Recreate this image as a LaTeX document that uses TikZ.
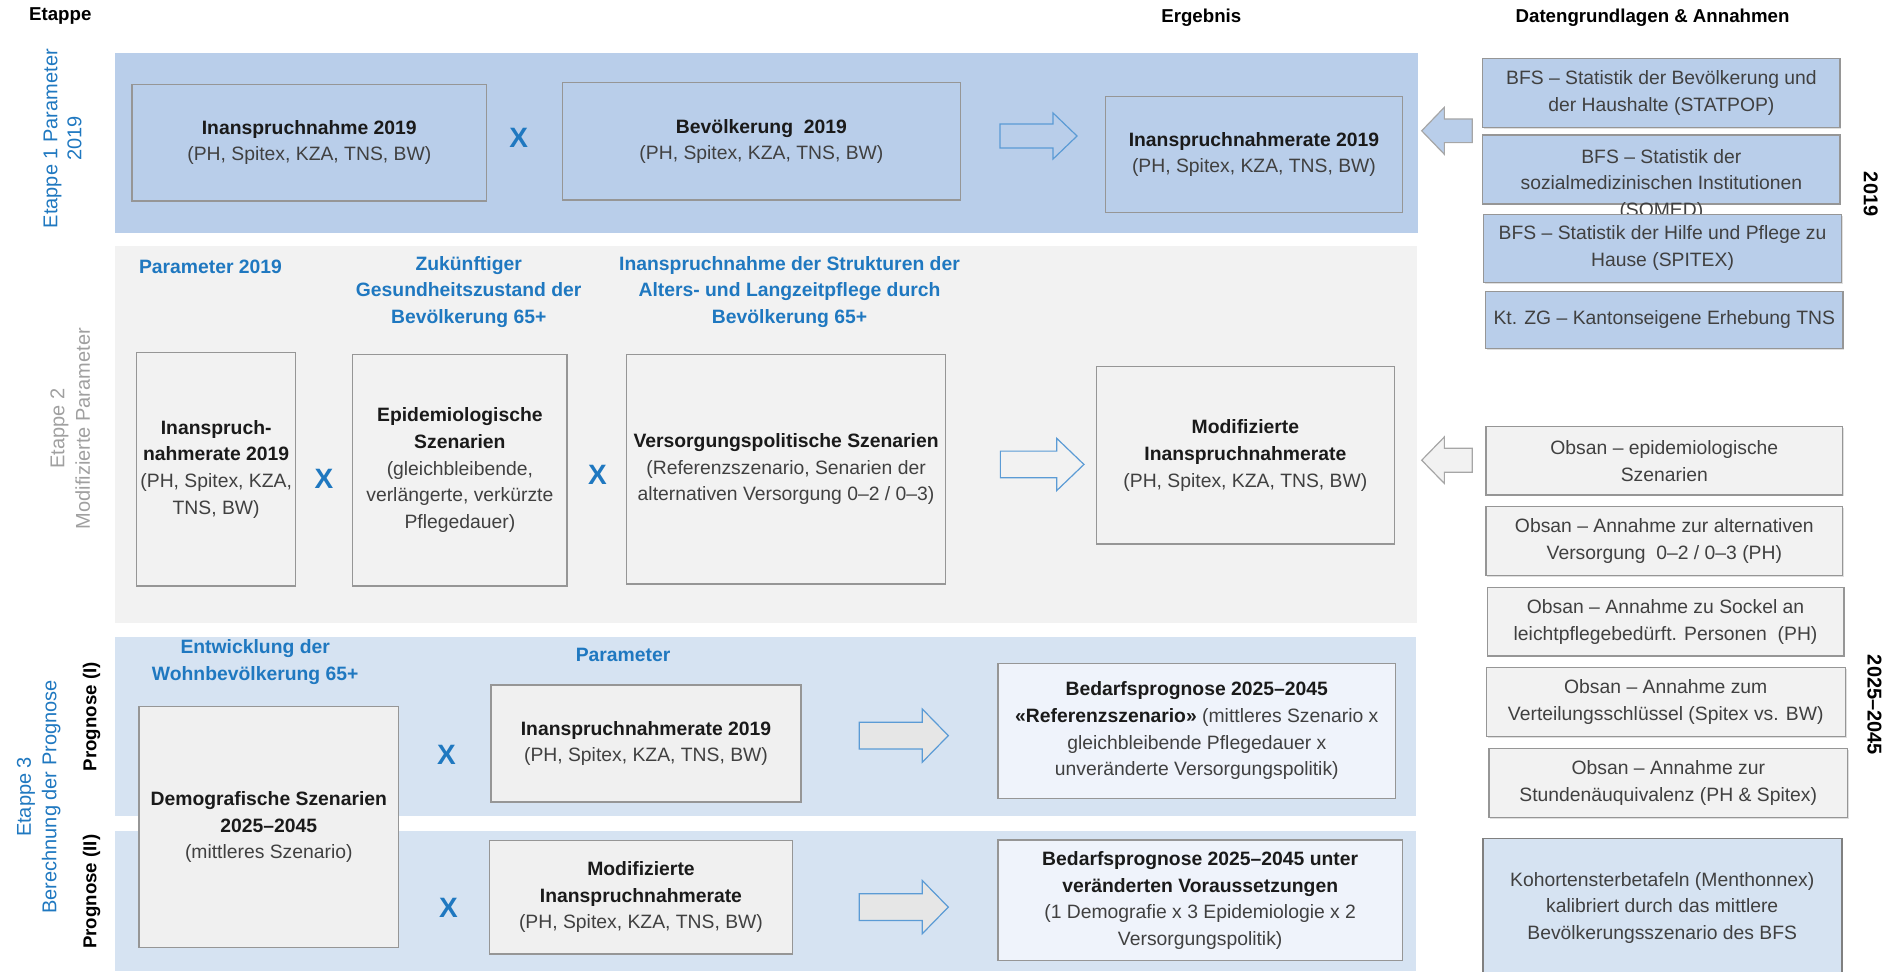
\documentclass[tikz,border=0pt]{standalone}
\usepackage{fontspec}
\setmainfont{Liberation Sans}
\usetikzlibrary{fit,shadows}
\definecolor{bandA}{RGB}{185,206,234}
\definecolor{bandB}{RGB}{242,242,242}
\definecolor{bandC}{RGB}{214,227,242}
\definecolor{boxK}{RGB}{239,243,251}
\definecolor{boxgrey}{RGB}{240,240,240}
\definecolor{bord}{RGB}{150,150,150}
\definecolor{kobord}{RGB}{128,128,128}
\definecolor{myblue}{RGB}{31,120,192}
\definecolor{arrblue}{RGB}{91,155,213}
\definecolor{arrgreyline}{RGB}{166,166,166}
\definecolor{txt}{RGB}{64,64,64}
\definecolor{dark}{RGB}{26,26,26}
\definecolor{lbl}{RGB}{160,160,160}
\definecolor{arrgrey}{RGB}{230,230,230}
\newcommand{\hd}[1]{{\color{dark}\bfseries #1}}
\newcommand{\myfs}{\fontsize{14.5}{20}\selectfont}
% box from corner (x1,y1) to (x2,y2), in picture units (0.9083pt)
\newcommand{\bx}[7][]{%
  \node[box, #1, minimum width={(#5-#3)*0.9083pt}, minimum height={(#6-#4)*0.9083pt}]
    (#2) at ({(#3+#5)/2},{(#4+#6)/2}) {#7};}
\newcommand{\blockarrow}[7]{%
  \draw[#1] ({#2},{#5-#6}) -- ({#3},{#5-#6}) -- ({#3},{#5-#7}) -- ({#4},{#5})
    -- ({#3},{#5+#7}) -- ({#3},{#5+#6}) -- ({#2},{#5+#6}) -- cycle;}
\tikzset{
  band/.style={draw=none, inner sep=0pt},
  box/.style={draw=bord, line width=0.9pt, inner sep=0pt, align=center, text=txt, font=\myfs},
  shad/.style={drop shadow={shadow xshift=1pt, shadow yshift=-1pt, opacity=0.25}},
  heading/.style={font=\fontsize{14.5}{20}\selectfont\bfseries, text=myblue, align=center},
  colhead/.style={font=\fontsize{14}{16}\selectfont\bfseries, text=black},
  times/.style={font=\fontsize{21}{21}\selectfont\bfseries, text=myblue},
  etlabel/.style={rotate=90, align=center, font=\fontsize{15}{19}\selectfont},
  proglabel/.style={rotate=90, font=\fontsize{14}{16}\selectfont\bfseries, text=black},
  yearlabel/.style={rotate=-90, font=\fontsize{15}{16}\selectfont\bfseries, text=black},
  bluearrow/.style={draw=arrblue, line width=0.9pt},
  greyarrow/.style={draw=arrgreyline, line width=0.9pt}
}
\begin{document}
\begin{tikzpicture}[x=0.9083pt, y=-0.9083pt]
\useasboundingbox (0,0) rectangle (1568,802);

% column headers
\node[colhead] (hEtappe) at (49.8,13.5) {Etappe};
\node[colhead] (hErgebnis) at (991.9,14.3) {Ergebnis};
\node[colhead] (hDaten) at (1364.5,14.3) {Datengrundlagen \& Annahmen};

% bands
\node[band, fill=bandA, fit={(95,44) (1170.6,192.7)}] (band1) {};
\node[band, fill=bandB, fit={(95,203.1) (1170,514.1)}] (band2) {};
\node[band, fill=bandC, fit={(95,525.7) (1169,673.8)}] (band3a) {};
\node[band, fill=bandC, fit={(95,685.9) (1169,802)}] (band3b) {};

% left stage labels
\node[etlabel, text=myblue, font=\fontsize{15}{18}\selectfont] (et1) at (51.6,114.5) {Etappe 1 Parameter\\2019};
\node[etlabel, text=lbl] (et2) at (58,354) {Etappe 2\\Modifizierte Parameter};
\node[etlabel, text=myblue] (et3) at (32,658) {Etappe 3\\Berechnung der Prognose};
\node[proglabel] (p1) at (75.7,591.8) {Prognose (I)};
\node[proglabel] (p2) at (75.7,736.3) {Prognose (II)};

% right year labels
\node[yearlabel] (y2019) at (1544.6,160.3) {2019};
\node[yearlabel] (y2045) at (1547.7,582.1) {2025–2045};

% ---------- Etappe 1 ----------
\bx[fill=bandA]{A}{109}{69.6}{401.8}{166}{\hd{Inanspruchnahme 2019}\\(PH, Spitex, KZA, TNS, BW)}
\node[times] (x1) at (428.3,114.2) {X};
\bx[fill=bandA]{B}{464.5}{68.3}{792.9}{165.1}{\hd{Bevölkerung\ \ 2019}\\(PH, Spitex, KZA, TNS, BW)}
\bx[fill=bandA]{C}{912.8}{79.8}{1158}{175.3}{\hd{Inanspruchnahmerate 2019}\\(PH, Spitex, KZA, TNS, BW)}
\blockarrow{bluearrow, fill=bandA}{825.7}{869.5}{889.3}{112.3}{9.9}{19}
\blockarrow{greyarrow, fill=bandA}{1215.7}{1192.6}{1173.9}{108}{9.75}{19.4}

% right column, 2019 sources
\bx[fill=bandA, shad]{R1}{1224.3}{48.2}{1519.3}{105.4}{BFS – Statistik der Bevölkerung und\\der Haushalte (STATPOP)}
\bx[fill=bandA, shad]{R2}{1224.3}{111.5}{1519.3}{168.4}{}
\node[align=center, text=txt, font=\myfs] (R2t) at (1371.8,152.5) {BFS – Statistik der\\sozialmedizinischen Institutionen\\(SOMED)};
\bx[fill=bandA, shad]{R3}{1225}{177}{1520.5}{233}{BFS – Statistik der Hilfe und Pflege zu\\Hause (SPITEX)}
\bx[fill=bandA, shad]{R4}{1226.7}{240.8}{1521.7}{287.6}{Kt. ZG – Kantonseigene Erhebung TNS}

% ---------- Etappe 2 ----------
\node[heading] (h21) at (173.8,220.5) {Parameter 2019};
\node[heading] (h22) at (387,241) {Zukünftiger\\Gesundheitszustand der\\Bevölkerung 65+};
\node[heading] (h23) at (651.9,241) {Inanspruchnahme der Strukturen der\\Alters- und Langzeitpflege durch\\Bevölkerung 65+};
\bx[fill=bandB]{D}{112.7}{290.9}{244.3}{483.9}{\hd{Inanspruch-}\\\hd{nahmerate 2019}\\(PH, Spitex, KZA,\\TNS, BW)}
\node[times] (x2) at (267.5,395) {X};
\bx[fill=bandB]{E}{291.2}{292.6}{468.2}{483.9}{\hd{Epidemiologische}\\\hd{Szenarien}\\(gleichbleibende,\\verlängerte, verkürzte\\Pflegedauer)}
\node[times] (x3) at (493.4,392.2) {X};
\bx[fill=bandB]{F}{517.1}{292.6}{781}{482.2}{\hd{Versorgungspolitische Szenarien}\\(Referenzszenario, Senarien der\\alternativen Versorgung 0–2 / 0–3)}
\bx[fill=bandB]{G}{905.2}{302.8}{1151.4}{449.2}{\hd{Modifizierte}\\\hd{Inanspruchnahmerate}\\(PH, Spitex, KZA, TNS, BW)}
\blockarrow{bluearrow, fill=bandB}{826}{872.5}{895}{383.5}{11}{21.6}
\blockarrow{greyarrow, fill=bandB}{1215.7}{1192.6}{1173.9}{380}{9.9}{19.2}

% right column, assumptions
\bx[fill=bandB, shad]{G1}{1227}{352.3}{1521.5}{408.7}{Obsan – epidemiologische\\Szenarien}
\bx[fill=bandB, shad]{G2}{1227}{418.4}{1521.5}{475.3}{Obsan – Annahme zur alternativen\\Versorgung\ \ 0–2 / 0–3 (PH)}
\bx[fill=bandB, shad]{G3}{1228}{485}{1522.5}{541.7}{Obsan – Annahme zu Sockel an\\leichtpflegebedürft. Personen\ \ (PH)}
\bx[fill=bandB, shad]{G4}{1227.2}{551}{1523.6}{608.3}{Obsan – Annahme zum\\Verteilungsschlüssel (Spitex vs. BW)}
\bx[fill=bandB, shad]{G5}{1229.5}{617.9}{1525.5}{675.2}{Obsan – Annahme zur\\Stundenäuquivalenz (PH \& Spitex)}
\bx[fill=bandC, draw=kobord, line width=1.2pt]{KO}{1224.3}{692.2}{1520.7}{810}{}
\node[align=center, text=txt, font=\myfs] (KOt) at (1372.5,749.5) {Kohortensterbetafeln (Menthonnex)\\kalibriert durch das mittlere\\Bevölkerungsszenario des BFS};

% ---------- Etappe 3 ----------
\node[heading] (h31) at (210.7,546.5) {Entwicklung der\\Wohnbevölkerung 65+};
\node[heading] (h32) at (514.5,540.8) {Parameter};
\bx[fill=boxgrey]{H}{114.8}{583.5}{329.1}{782.2}{\hd{Demografische Szenarien}\\\hd{2025–2045}\\(mittleres Szenario)}
\node[times] (x4) at (368.6,623.4) {X};
\node[times] (x5) at (370.2,750) {X};
\bx[fill=boxgrey]{I}{405.4}{565.6}{661.4}{662.2}{\hd{Inanspruchnahmerate 2019}\\(PH, Spitex, KZA, TNS, BW)}
\bx[fill=boxgrey]{J}{403.9}{694.1}{654.6}{787.7}{\hd{Modifizierte}\\\hd{Inanspruchnahmerate}\\(PH, Spitex, KZA, TNS, BW)}
\blockarrow{bluearrow, fill=arrgrey}{709.5}{761.5}{783}{607.4}{11}{22}
\blockarrow{bluearrow, fill=arrgrey}{709.5}{761.5}{783}{749}{11}{22}
\bx[fill=boxK]{K}{824}{547.7}{1152.4}{659.2}{\hd{Bedarfsprognose 2025–2045}\\\hd{«Referenzszenario»} (mittleres Szenario x\\gleichbleibende Pflegedauer x\\unveränderte Versorgungspolitik)}
\bx[fill=boxK]{L}{824}{693.6}{1158}{793.2}{\hd{Bedarfsprognose 2025–2045 unter}\\\hd{veränderten Voraussetzungen}\\(1 Demografie x 3 Epidemiologie x 2\\Versorgungspolitik)}
\end{tikzpicture}
\end{document}
